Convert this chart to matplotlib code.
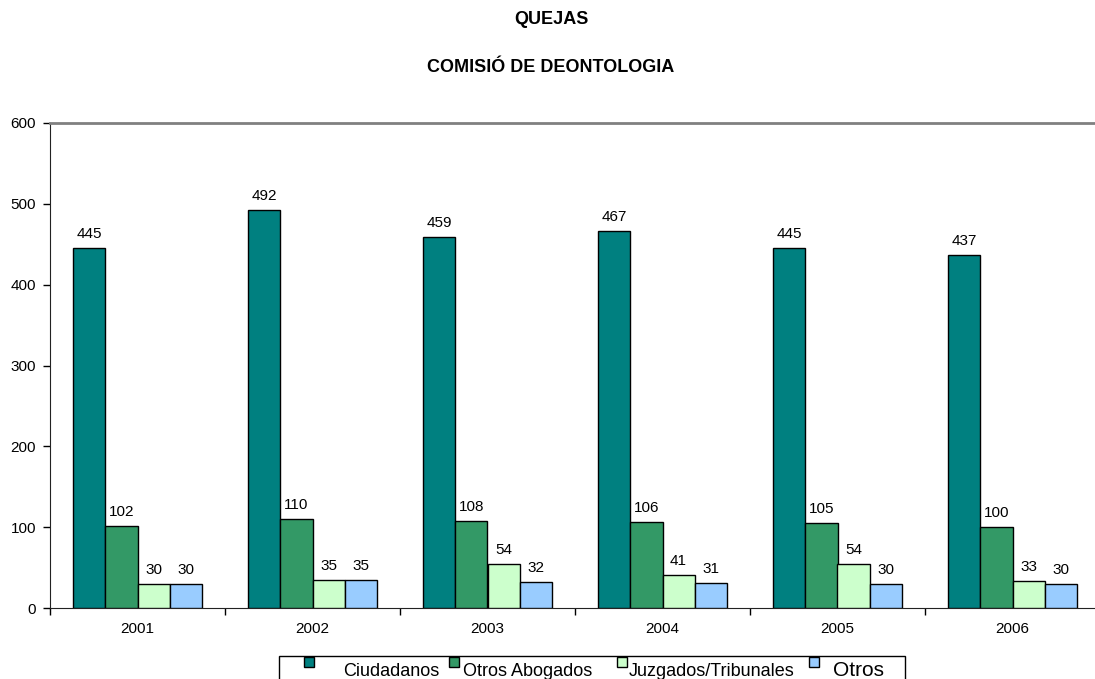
import numpy as np
import matplotlib
matplotlib.use('Agg')
import matplotlib.pyplot as plt
from matplotlib.patches import Rectangle

plt.rcParams['font.family'] = ['Liberation Sans', 'DejaVu Sans']

years = ['2001', '2002', '2003', '2004', '2005', '2006']
ciudadanos = [445, 492, 459, 467, 445, 437]
otros_abogados = [102, 110, 108, 106, 105, 100]
juzgados = [30, 35, 54, 41, 54, 33]
otros = [30, 35, 32, 31, 30, 30]

names = ['Ciudadanos', 'Otros Abogados', 'Juzgados/Tribunales', 'Otros']
colors = ['#008080', '#339966', '#CCFFCC', '#99CCFF']
series = [ciudadanos, otros_abogados, juzgados, otros]

W, H = 1095, 679
fig = plt.figure(figsize=(W / 100, H / 100), dpi=100)
ax = fig.add_axes([50 / W, (H - 608) / H, 1050 / W, 485 / H])


def px(x, y):
    # pixel position (from top-left) -> figure fraction
    return x / W, 1 - y / H


x = np.arange(len(years))
w = 0.184
for i, (vals, c) in enumerate(zip(series, colors)):
    pos = x + (i - 1.5) * w
    ax.bar(pos, vals, width=w, color=c, edgecolor='black', linewidth=1, zorder=3)
    for xp, v in zip(pos, vals):
        ax.annotate(str(v), (xp, v), xytext=(0, 7.2), textcoords='offset points',
                    ha='center', va='baseline', fontsize=11)

ax.set_xlim(-0.5, len(years) - 0.5)
ax.set_ylim(0, 600)
ax.set_yticks(range(0, 601, 100))
ax.set_xticks(x)
ax.set_xticklabels(years)
ax.set_xticks(np.arange(len(years) + 1) - 0.5, minor=True)
ax.tick_params(axis='x', which='major', length=0, pad=10, labelsize=11)
ax.tick_params(axis='x', which='minor', length=5, direction='out', width=1)
ax.tick_params(axis='y', length=5, direction='out', pad=5, labelsize=11, width=1)

ax.spines['right'].set_visible(False)
ax.spines['top'].set_color('#808080')
ax.spines['top'].set_linewidth(2)
ax.spines['left'].set_color('#222222')
ax.spines['bottom'].set_color('#222222')

fig.text(*px(551, 20), 'QUEJAS', ha='center', va='center', fontsize=13, fontweight='bold')
fig.text(*px(551, 67.5), 'COMISIÓ DE DEONTOLOGIA', ha='center', va='center',
         fontsize=13, fontweight='bold')

# legend box (cut at the bottom like the original)
lx, ly = px(279, 700)
fig.add_artist(Rectangle((lx, ly), (905 - 279) / W, 44 / H, transform=fig.transFigure,
                         facecolor='white', edgecolor='black', linewidth=1))
marker_x = [304, 449, 617, 809]
text_x = [343, 463, 629, 833]
text_size = [13, 13, 13, 15]
for mx, tx, fs, c, n in zip(marker_x, text_x, text_size, colors, names):
    mxx, myy = px(mx, 667)
    fig.add_artist(Rectangle((mxx, myy), 10 / W, 10 / H, transform=fig.transFigure,
                             facecolor=c, edgecolor='black', linewidth=1))
    fig.text(*px(tx, 676), n, ha='left', va='baseline', fontsize=fs)

fig.savefig('out.png', dpi=100)
